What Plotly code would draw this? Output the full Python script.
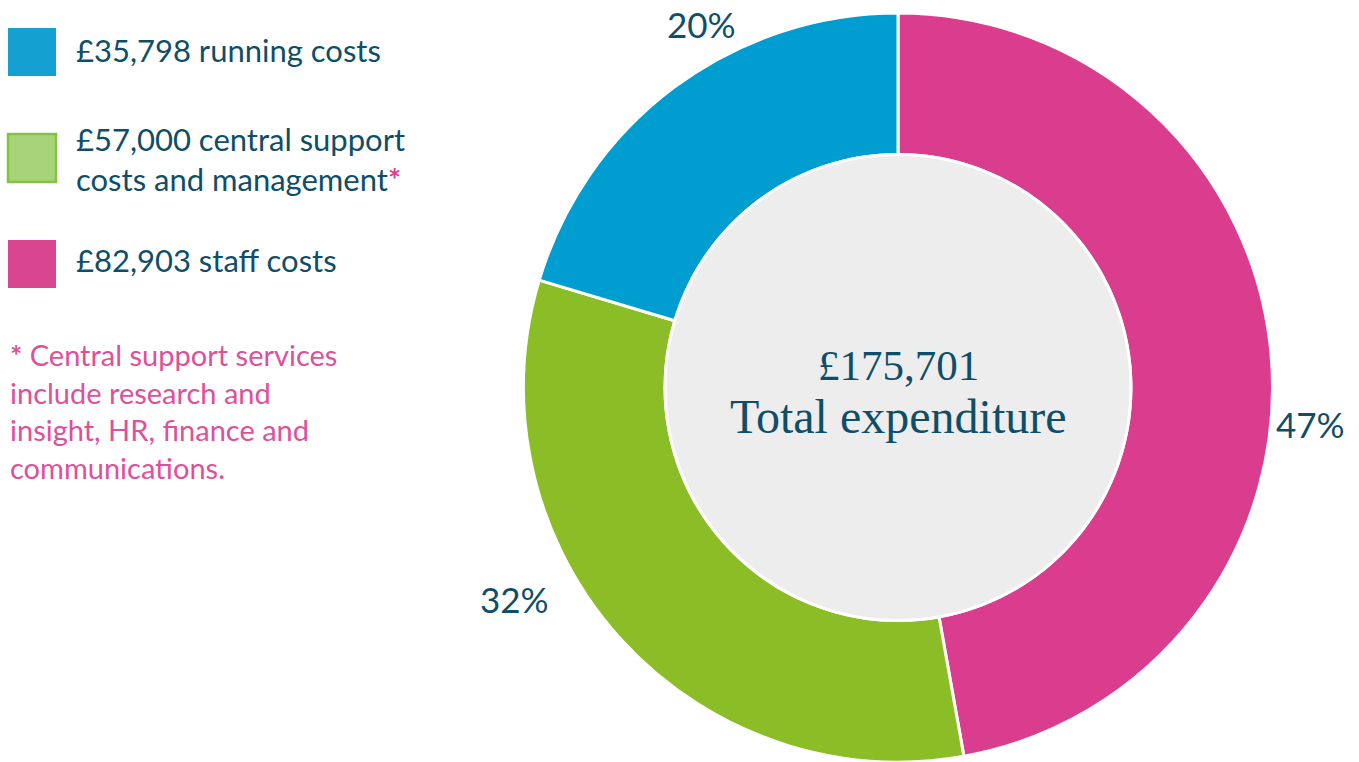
import plotly.graph_objects as go

# Data
categories = ["staff costs", "central support costs and management", "running costs"]
values = [82903, 57000, 35798]
slice_colors = ["#DB3D8E", "#8BBD26", "#009ED0"]
legend_colors = ["#14A1D2", "#A8D379", "#D9468F"]
total = sum(values)

W, H = 1359, 762
TEXT = "#0E4E68"
PINK_TXT = "#E0509A"

def px(x):
    return x / W

def py(y):
    return 1 - y / H

# Pie geometry (pixels)
cx, cy, r = 898, 387.5, 374.5
hole = 0.622
ri = r * hole

fig = go.Figure()
fig.add_trace(go.Pie(
    labels=categories,
    values=values,
    sort=False,
    direction="clockwise",
    rotation=0,
    hole=hole,
    textinfo="none",
    hoverinfo="label+value+percent",
    marker=dict(colors=slice_colors, line=dict(color="white", width=3)),
    domain=dict(x=[px(cx - r), px(cx + r)], y=[py(cy + r), py(cy - r)]),
    showlegend=False,
))

shapes = [
    dict(type="circle", xref="paper", yref="paper",
         x0=px(cx - ri), x1=px(cx + ri), y0=py(cy + ri), y1=py(cy - ri),
         fillcolor="#EDEDED", line=dict(color="white", width=3), layer="above"),
]

# Legend squares
sq = [(8, 28, 56, 76), (8, 134, 56, 182), (8, 240, 56, 288)]
legend_order = [2, 1, 0]  # running, central, staff
for k, ((x0, y0, x1, y1), i) in enumerate(zip(sq, legend_order)):
    line = dict(width=0)
    if i == 1:
        line = dict(color="#84C341", width=2.5)
    shapes.append(dict(type="rect", xref="paper", yref="paper",
                       x0=px(x0), x1=px(x1), y0=py(y1), y1=py(y0),
                       fillcolor=legend_colors[k], line=line, layer="above"))

annotations = []
SANS = "Lato, 'Open Sans', sans-serif"
SERIF = "'Liberation Serif', 'DejaVu Serif', serif"

def fmt_money(v):
    return "£{:,}".format(v)

leg_texts = [
    (50, f"{fmt_money(values[2])} running costs"),
    (159, f"{fmt_money(values[1])} central support<br>costs and management<span style='color:#DC3D8F'><b>*</b></span>"),
    (260, f"{fmt_money(values[0])} staff costs"),
]
for y, t in leg_texts:
    annotations.append(dict(x=px(74), y=py(y), xref="paper", yref="paper",
                            text=t, showarrow=False, xanchor="left", yanchor="middle",
                            align="left", font=dict(family=SANS, size=31, color=TEXT)))

annotations.append(dict(
    x=px(8), y=py(411), xref="paper", yref="paper",
    text="<b>*</b> Central support services<br>include research and<br>insight, HR, finance and<br>communications.",
    showarrow=False, xanchor="left", yanchor="middle", align="left",
    font=dict(family=SANS, size=29, color=PINK_TXT)))

# Center text
annotations.append(dict(
    x=px(cx), y=py(365), xref="paper", yref="paper",
    text=fmt_money(total),
    showarrow=False, xanchor="center", yanchor="middle",
    font=dict(family=SERIF, size=43, color=TEXT)))
annotations.append(dict(
    x=px(cx), y=py(416), xref="paper", yref="paper",
    text="Total expenditure",
    showarrow=False, xanchor="center", yanchor="middle",
    font=dict(family=SERIF, size=48, color=TEXT)))

# Percent labels
pct = [round(v / total * 100) for v in values]
pct_pos = {2: (701, 24), 1: (514, 599), 0: (1310, 424)}
for i, (x, y) in pct_pos.items():
    annotations.append(dict(x=px(x), y=py(y), xref="paper", yref="paper",
                            text=f"{pct[i]}%", showarrow=False,
                            xanchor="center", yanchor="middle",
                            font=dict(family=SANS, size=35, color=TEXT)))

fig.update_layout(
    width=W, height=H,
    margin=dict(l=0, r=0, t=0, b=0),
    paper_bgcolor="white", plot_bgcolor="white",
    shapes=shapes, annotations=annotations,
)

fig.write_html("out.html", config={"displayModeBar": False},
               post_script="document.body.style.margin='0';document.body.style.overflow='hidden';")
